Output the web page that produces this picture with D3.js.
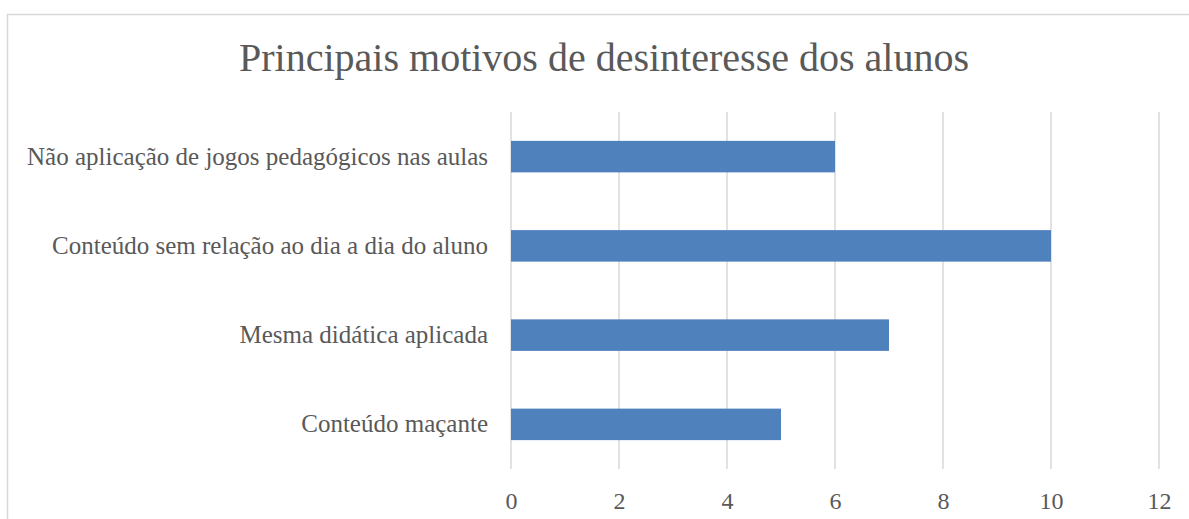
<!DOCTYPE html>
<html>
<head>
<meta charset="utf-8">
<script src="https://cdn.jsdelivr.net/npm/d3@7"></script>
<style>
  body { margin: 0; background: #fff; }
  svg text { font-family: "Liberation Serif", "DejaVu Serif", serif; fill: #595959; }
</style>
</head>
<body>
<div id="chart"></div>
<script>
// data, top to bottom
var categories = [
    'Não aplicação de jogos pedagógicos nas aulas'
  , 'Conteúdo sem relação ao dia a dia do aluno'
  , 'Mesma didática aplicada'
  , 'Conteúdo maçante'
];
var values = [6, 10, 7, 5];
var xTicks = [0, 2, 4, 6, 8, 10, 12];
var title = 'Principais motivos de desinteresse dos alunos';

var W = 1189, H = 519
  , plot = {left: 511, right: 1159, top: 112, bottom: 469};

var svg = d3.select('#chart').append('svg')
    .attr('width', W).attr('height', H);

// chart frame
svg.append('rect')
    .attr('x', 7.5).attr('y', 14.5)
    .attr('width', W + 10).attr('height', H + 10)
    .attr('fill', '#fff').attr('stroke', '#d9d9d9').attr('stroke-width', 1.5);

svg.append('text')
    .attr('x', 604).attr('y', 71)
    .attr('text-anchor', 'middle')
    .style('font-size', '40px')
    .text(title);

var x = d3.scaleLinear().domain([0, 12]).range([plot.left, plot.right]);
var y = d3.scaleBand().domain(categories).range([plot.top, plot.bottom])
    .paddingInner(0.647).paddingOuter(0.3235);

// vertical gridlines
svg.append('g').selectAll('line').data(xTicks).enter().append('line')
    .attr('x1', function(d){ return x(d); })
    .attr('x2', function(d){ return x(d); })
    .attr('y1', plot.top).attr('y2', plot.bottom)
    .attr('stroke', '#d9d9d9').attr('stroke-width', 1.5);

// bars
svg.append('g').selectAll('rect').data(values).enter().append('rect')
    .attr('x', x(0))
    .attr('y', function(d, i){ return y(categories[i]); })
    .attr('width', function(d){ return x(d) - x(0); })
    .attr('height', y.bandwidth())
    .attr('fill', '#4f81bd');

// x axis labels
var xaxis = svg.append('g')
    .attr('transform', 'translate(0,' + plot.bottom + ')')
    .call(d3.axisBottom(x).tickValues(xTicks).tickSize(0).tickPadding(23));
xaxis.select('.domain').remove();
xaxis.selectAll('text').style('font-size', '24px').attr('fill', '#595959');

// category labels
var yaxis = svg.append('g')
    .attr('transform', 'translate(' + plot.left + ',0)')
    .call(d3.axisLeft(y).tickSize(0).tickPadding(23));
yaxis.select('.domain').remove();
yaxis.selectAll('text').style('font-size', '25px').attr('fill', '#595959');
</script>
</body>
</html>
